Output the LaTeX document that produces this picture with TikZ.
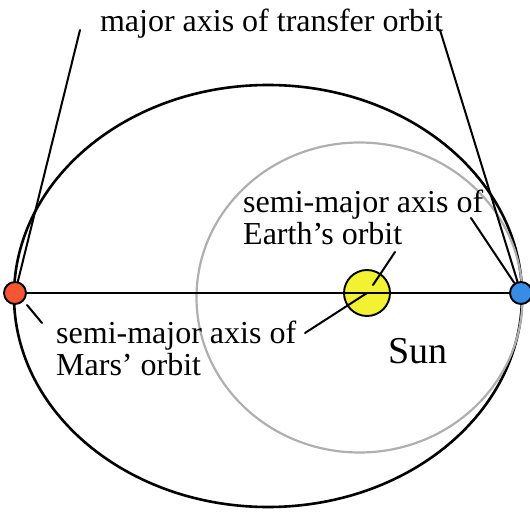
\documentclass[tikz,border=0pt]{standalone}
\usepackage{fontspec}
\setmainfont{Liberation Serif}
\definecolor{orbitgray}{RGB}{175,175,175}
\definecolor{marsred}{RGB}{245,85,50}
\definecolor{earthblue}{RGB}{55,140,230}
\definecolor{sunyellow}{RGB}{242,242,50}
\begin{document}
\begin{tikzpicture}[x=1pt,y=-1pt,
  orbit/.style={line width=2.6pt},
  earthorbit/.style={line width=2.2pt, draw=orbitgray},
  leader/.style={line width=2pt, line cap=round},
  axisline/.style={line width=2.2pt},
  lbl/.style={inner sep=0pt, font=\fontsize{32}{31.5}\selectfont, align=left},
  planet/.style={circle, draw=black, line width=1.9pt, minimum size=22pt, inner sep=0pt}]
\useasboundingbox (0,0) rectangle (530,513);
\draw[orbit] (268,296) ellipse [x radius=254pt, y radius=211pt];
\draw[earthorbit] (359.5,297.5) ellipse [x radius=163pt, y radius=155pt];
\node[planet, fill=sunyellow, minimum size=46pt] (sun) at (367,293) {};
\node[planet, fill=marsred] (mars) at (15,293) {};
\node[planet, fill=earthblue] (earth) at (521,293) {};
\draw[axisline] (mars) -- (earth);
\node[lbl, anchor=base] (transfer) at (271.5,32) {major axis of transfer orbit};
\node[lbl, anchor=north west] (earthlbl) at (243,190) {semi-major axis of\\Earth's orbit};
\node[lbl, anchor=north west] (marslbl) at (56,321) {semi-major axis of\\Mars' orbit};
\node[inner sep=0pt, font=\fontsize{38}{38}\selectfont, anchor=base west] (sunlbl) at (388,363) {Sun};
\coordinate (tl) at (80,30);
\coordinate (tr) at (440,30);
\coordinate (e1) at (471,218);
\coordinate (e2) at (395,252);
\coordinate (e2end) at (373,285);
\coordinate (m1a) at (27,305);
\coordinate (m1b) at (42,323);
\coordinate (m2) at (305,333);
\draw[leader] (tl) -- (mars);
\draw[leader] (tr) -- (earth);
\draw[leader] (e1) -- (earth);
\draw[leader] (e2) -- (e2end);
\draw[leader] (m1a) -- (m1b);
\draw[leader] (m2) -- (sun.center);
\end{tikzpicture}
\end{document}
